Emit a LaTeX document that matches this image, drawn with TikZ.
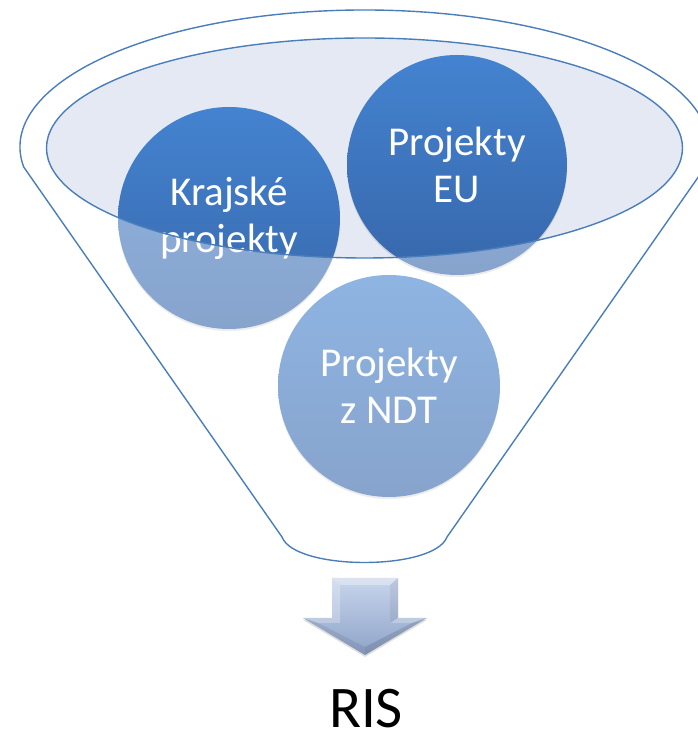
\documentclass[tikz,border=0pt]{standalone}
\usepackage{fontspec}
\setmainfont{Carlito}
\usetikzlibrary{shadows}
\definecolor{funline}{HTML}{4A7EBB}
\definecolor{ellfill}{HTML}{E4E9F3}
\definecolor{circtop}{HTML}{4483D0}
\definecolor{circbot}{HTML}{3767AB}
\definecolor{arrtop}{HTML}{C8D5EC}
\definecolor{arrbot}{HTML}{8EA3C8}
\tikzset{
  ball/.style={circle, minimum size=222pt, inner sep=0pt, top color=circtop, bottom color=circbot,
    draw=none, text=white, align=center, font=\fontsize{41}{47}\selectfont,
    drop shadow={shadow xshift=0pt, shadow yshift=-2pt, opacity=0.25}},
  funnelline/.style={draw=funline, line width=1.4pt},
}
\begin{document}
\begin{tikzpicture}[x=1pt,y=1pt]
\useasboundingbox (0,0) rectangle (697,735);
% inner ellipse (opening)
\fill[ellfill] (364.5,587) ellipse [x radius=318, y radius=110];
% balls
\node[ball] (kraj) at (229,517) {Krajské\\projekty};
\node[ball, minimum size=220pt] (eu) at (457,570) {Projekty\\EU};
\node[ball] (ndt) at (389,349) {Projekty\\z NDT};
% funnel front overlay
\fill[white, fill opacity=0.4, even odd rule]
  (23.7,568) arc[start angle=188.4, end angle=-8.4, x radius=344.5, y radius=137]
  -- (447,198) .. controls (434,164) and (295,164) .. (282,198) -- cycle
  (364.5,587) ellipse [x radius=318, y radius=110];
% outlines
\draw[funnelline] (364.5,587) ellipse [x radius=318, y radius=110];
\draw[funnelline, line join=round]
  (23.7,568) arc[start angle=188.4, end angle=-8.4, x radius=344.5, y radius=137]
  -- (447,198) .. controls (434,164) and (295,164) .. (282,198) -- cycle;
% arrow
\path[top color=arrtop, bottom color=arrbot, drop shadow={shadow xshift=0pt, shadow yshift=-2pt, opacity=0.25}]
  (332,157) coordinate (a1) -- (398,157) -- (398,117) -- (427,117) -- (365,80) coordinate (tip) -- (303,117) -- (332,117) -- cycle;
\fill[white, opacity=0.35] (332,157) -- (398,157) -- (390,150) -- (340,150) -- cycle;
\fill[white, opacity=0.25] (332,157) -- (340,150) -- (340,112) -- (332,117) -- cycle;
\fill[black, opacity=0.06] (398,157) -- (390,150) -- (390,112) -- (398,117) -- cycle;
\fill[white, opacity=0.25] (303,117) -- (332,117) -- (340,112) -- (318,112) -- cycle;
\fill[white, opacity=0.25] (427,117) -- (398,117) -- (390,112) -- (412,112) -- cycle;
\fill[black, opacity=0.08] (303,117) -- (318,112) -- (365,88) -- (365,80) -- cycle;
\fill[black, opacity=0.12] (427,117) -- (412,112) -- (365,88) -- (365,80) -- cycle;
% label
\node[anchor=base, font=\fontsize{59}{62}\selectfont, text=black, inner sep=0pt] (ris) at (366,8) {RIS};
\end{tikzpicture}
\end{document}
